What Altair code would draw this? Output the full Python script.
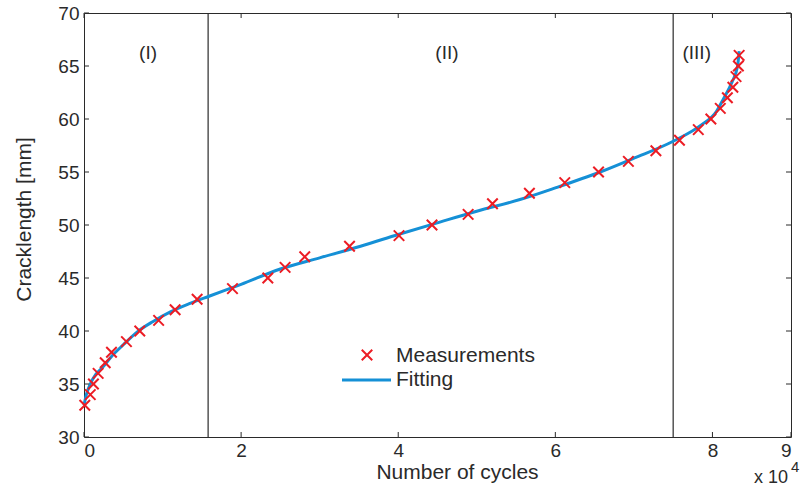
import altair as alt
import pandas as pd

# ---- data (cycles in units of 10^4, crack length in mm) ----
meas_cycles = [0.01, 0.08, 0.12, 0.18, 0.27, 0.35, 0.54, 0.71, 0.95, 1.16, 1.44,
               1.89, 2.34, 2.56, 2.81, 3.38, 4.01, 4.43, 4.89, 5.20, 5.67, 6.12,
               6.55, 6.93, 7.28, 7.58, 7.82, 7.98, 8.10, 8.19, 8.26, 8.30, 8.33, 8.34]
meas_length = [33, 34, 35, 36, 37, 38, 39, 40, 41, 42, 43, 44, 45, 46, 47, 48, 49,
               50, 51, 52, 53, 54, 55, 56, 57, 58, 59, 60, 61, 62, 63, 64, 65, 66]

fit_cycles = [0, 0.03, 0.08, 0.15, 0.24, 0.35, 0.5, 0.675, 0.88, 1.10, 1.35, 1.60,
              2.0, 2.5, 3.0, 3.52, 4.0, 4.54, 5.0, 5.55, 6.0, 6.57, 7.0, 7.5, 7.85,
              8.05, 8.14, 8.25, 8.32, 8.34]
fit_length = [33.0, 34.0, 35.0, 35.9, 36.6, 37.6, 38.7, 39.9, 40.9, 41.8, 42.6, 43.3,
              44.4, 45.85, 46.9, 48.0, 49.1, 50.3, 51.3, 52.4, 53.5, 55.0, 56.3, 57.9,
              59.4, 60.7, 61.9, 63.5, 65.0, 66.4]

boundaries = [1.58, 7.5]
region_labels = ["(I)", "(II)", "(III)"]
region_x = [0.815, 4.62, 7.80]
region_y = [66.2, 66.2, 66.2]

x_ticks = [0, 2, 4, 6, 8, 9]
y_ticks = [30, 35, 40, 45, 50, 55, 60, 65, 70]
legend_labels = ["Measurements", "Fitting"]

RED = "#ec1c24"
BLUE = "#1590d6"
DARK = "#2a2a2a"
FONT = "Liberation Sans"
W, H = 707, 424

meas = pd.DataFrame({"cycles": meas_cycles, "length": meas_length})
fit = pd.DataFrame({"cycles": fit_cycles, "length": fit_length})
bnd = pd.DataFrame({"cycles": boundaries})
reg = pd.DataFrame({"cycles": region_x, "length": region_y, "label": region_labels})
xt = pd.DataFrame({"cycles": x_ticks})
yt = pd.DataFrame({"length": y_ticks})

xscale = alt.Scale(domain=[0, 9], nice=False, zero=False)
yscale = alt.Scale(domain=[30, 70], nice=False, zero=False)

xaxis = alt.Axis(values=x_ticks, format="d", labelPadding=4, title="Number of cycles",
                 titleX=373, titleY=35, titleBaseline="middle", titleAlign="center")
yaxis = alt.Axis(values=y_ticks, format="d", labelPadding=5, title="Cracklength [mm]",
                 titleX=-60, titleY=206, titleAngle=-90, titleBaseline="middle",
                 titleAlign="center")

X = alt.X("cycles:Q", scale=xscale, axis=xaxis)
Y = alt.Y("length:Q", scale=yscale, axis=yaxis)

line = alt.Chart(fit).mark_line(color=BLUE, strokeWidth=3, interpolate="monotone").encode(
    x=X, y=Y, order="cycles:Q")

xshape = "M-1,-1L1,1M-1,1L1,-1"
points = alt.Chart(meas).mark_point(shape=xshape, size=110, filled=False, strokeWidth=2,
                                    color=RED, opacity=1).encode(x=X, y=Y)

rules = alt.Chart(bnd).mark_rule(color=DARK, strokeWidth=1.2).encode(
    x=alt.X("cycles:Q", scale=xscale), y=alt.value(0), y2=alt.value(H))

regions = alt.Chart(reg).mark_text(font=FONT, fontSize=19, color=DARK, baseline="middle").encode(
    x=alt.X("cycles:Q", scale=xscale), y=alt.Y("length:Q", scale=yscale), text="label:N")

xt_bot = alt.Chart(xt).mark_rule(color=DARK, strokeWidth=1).encode(
    x=alt.X("cycles:Q", scale=xscale), y=alt.value(H), y2=alt.value(H - 5))
xt_top = alt.Chart(xt).mark_rule(color=DARK, strokeWidth=1).encode(
    x=alt.X("cycles:Q", scale=xscale), y=alt.value(0), y2=alt.value(5))
yt_left = alt.Chart(yt).mark_rule(color=DARK, strokeWidth=1).encode(
    y=alt.Y("length:Q", scale=yscale), x=alt.value(0), x2=alt.value(5))
yt_right = alt.Chart(yt).mark_rule(color=DARK, strokeWidth=1).encode(
    y=alt.Y("length:Q", scale=yscale), x=alt.value(W), x2=alt.value(W - 5))

leg_df = pd.DataFrame({"label": legend_labels})
leg_cross = alt.Chart(leg_df.iloc[[0]]).mark_point(shape=xshape, size=110, filled=False,
                                                   strokeWidth=2, color=RED, opacity=1).encode(
    x=alt.value(283), y=alt.value(342))
leg_line = alt.Chart(leg_df.iloc[[1]]).mark_rule(color=BLUE, strokeWidth=3).encode(
    x=alt.value(258), x2=alt.value(307), y=alt.value(367))
leg_t1 = alt.Chart(leg_df.iloc[[0]]).mark_text(font=FONT, fontSize=21, color=DARK, align="left",
                                               baseline="middle").encode(
    x=alt.value(312), y=alt.value(343), text="label:N")
leg_t2 = alt.Chart(leg_df.iloc[[1]]).mark_text(font=FONT, fontSize=21, color=DARK, align="left",
                                               baseline="middle").encode(
    x=alt.value(312), y=alt.value(367), text="label:N")

exp_df = pd.DataFrame({"t": ["x 10"], "e": ["4"]})
exp_main = alt.Chart(exp_df).mark_text(font=FONT, fontSize=18, color=DARK, align="left",
                                       baseline="middle").encode(
    x=alt.value(670), y=alt.value(465), text="t:N")
exp_sup = alt.Chart(exp_df).mark_text(font=FONT, fontSize=15, color=DARK, align="left",
                                      baseline="middle").encode(
    x=alt.value(707), y=alt.value(454), text="e:N")

chart = alt.layer(
    rules, line, points, regions, xt_bot, xt_top, yt_left, yt_right,
    leg_cross, leg_line, leg_t1, leg_t2, exp_main, exp_sup
).properties(
    width=W, height=H,
    autosize=alt.AutoSizeParams(type="none"),
    padding={"left": 84, "top": 13, "right": 16, "bottom": 51},
).configure_view(
    stroke=DARK, strokeWidth=1
).configure_axis(
    domain=False, ticks=False, grid=False,
    labelFont=FONT, labelFontSize=19, labelColor=DARK,
    titleFont=FONT, titleFontSize=21, titleFontWeight="normal", titleColor=DARK,
)

chart.save("out.html", embed_options={"renderer": "svg", "actions": False})
